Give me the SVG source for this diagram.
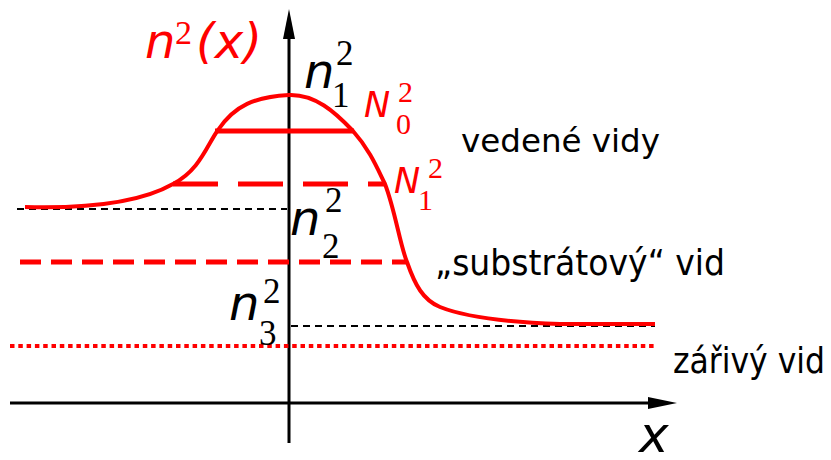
<svg xmlns="http://www.w3.org/2000/svg" width="831" height="460" viewBox="0 0 831 460">
<style>
.ax{stroke:#000;stroke-width:3;fill:none}
.bd{stroke:#000;stroke-width:2;fill:none;stroke-dasharray:7 5}
.rc{stroke:#f00;stroke-width:4;fill:none}
.rl{stroke:#f00;stroke-width:5;fill:none}
.it{font-family:"DejaVu Sans",sans-serif;font-style:italic}
.dg{font-family:"Liberation Serif",serif}
.tx{font-family:"DejaVu Sans",sans-serif;fill:#000}
.red{fill:#f00}
.blk{fill:#000}
</style>
<rect width="831" height="460" fill="#fff"/>
<g id="axes">
<line class="ax" x1="289" y1="443" x2="289" y2="34"/>
<polygon points="289,9 283,39 295,39" fill="#000"/>
<line class="ax" x1="10" y1="403" x2="652" y2="403"/>
<polygon points="677,403 648,397 648,409" fill="#000"/>
</g>
<g id="reference-lines">
<line class="bd" x1="17" y1="209" x2="287" y2="209"/>
<line class="bd" x1="291" y1="326" x2="655" y2="326"/>
</g>
<g id="modes">
<line class="rl" x1="215" y1="131" x2="354" y2="131"/>
<line class="rl" x1="173" y1="184" x2="385" y2="184" stroke-dasharray="45 20"/>
<line class="rl" x1="20" y1="262" x2="407" y2="262" stroke-dasharray="21 10"/>
<line stroke="#f00" stroke-width="4" x1="10" y1="346" x2="655" y2="346" stroke-dasharray="4.5 3.8"/>
</g>
<g id="profile">
<path class="rc" d="M25,207 C100,209 145,200 173,184 C200,170 207,145 218,130 C235,105 255,97 289,95 C315,94 335,112 353,131 C370,150 378,170 385,184 C395,210 400,245 407,262 C415,285 423,300 440,307 C460,315 500,322 560,324 L655,324"/>
</g>
<g id="label-n2x" class="red">
<text class="it" x="145" y="58" font-size="48">n</text>
<text class="dg" x="175" y="44" font-size="34">2</text>
<text class="it" x="196" y="58" font-size="48">(x)</text>
</g>
<g id="label-n1" class="blk">
<text class="it" x="304" y="88" font-size="48">n</text>
<text class="dg" x="336" y="65" font-size="35">2</text>
<text class="dg" x="332" y="107" font-size="35">1</text>
</g>
<g id="label-n2" class="blk">
<text class="it" x="290" y="235" font-size="48">n</text>
<text class="dg" x="325" y="212" font-size="35">2</text>
<text class="dg" x="322" y="258" font-size="35">2</text>
</g>
<g id="label-n3" class="blk">
<text class="it" x="229" y="320" font-size="48">n</text>
<text class="dg" x="263" y="303" font-size="35">2</text>
<text class="dg" x="259" y="345" font-size="35">3</text>
</g>
<g id="label-N0" class="red">
<text class="it" x="364" y="117" font-size="35">N</text>
<text class="dg" x="398" y="102" font-size="30">2</text>
<text class="dg" x="396" y="134" font-size="30">0</text>
</g>
<g id="label-N1" class="red">
<text class="it" x="394" y="193" font-size="35">N</text>
<text class="dg" x="428" y="178" font-size="30">2</text>
<text class="dg" x="418" y="210" font-size="30">1</text>
</g>
<g id="label-texts">
<text class="tx" x="461" y="152" font-size="32" textLength="199" lengthAdjust="spacingAndGlyphs">vedené vidy</text>
<text class="tx" x="435" y="275" font-size="36" textLength="290" lengthAdjust="spacingAndGlyphs">„substrátový“ vid</text>
<text class="tx" x="673" y="373" font-size="36" textLength="152" lengthAdjust="spacingAndGlyphs">zářivý vid</text>
<text class="it blk" x="639" y="452" font-size="50">x</text>
</g>
</svg>
